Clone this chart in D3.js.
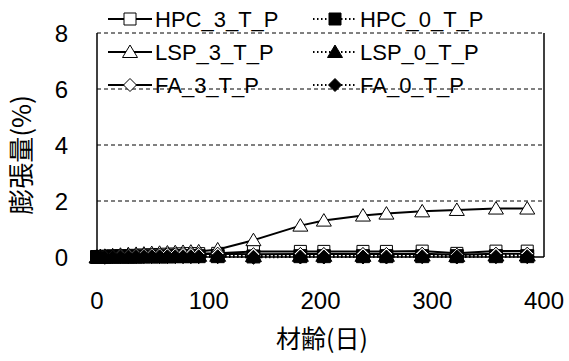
<!DOCTYPE html>
<html>
<head>
<meta charset="utf-8">
<script src="https://cdn.jsdelivr.net/npm/d3@7"></script>
<style>
  body { margin: 0; background: #fff; }
  svg { display: block; font-family: Arial, "Liberation Sans", sans-serif; }
</style>
</head>
<body>
<div id="chart"></div>
<script>
// chart.js
const days = [0, 3, 7, 14, 21, 28, 35, 42, 49, 56, 63, 70, 77, 84, 91, 108, 140, 182, 203, 238, 259, 291, 322, 357, 385];

const hpc3 = [0, 0.02, 0.03, 0.04, 0.05, 0.05, 0.06, 0.07, 0.08, 0.09, 0.1, 0.1, 0.11, 0.12, 0.12, 0.13, 0.2, 0.2, 0.2, 0.2, 0.2, 0.21, 0.13, 0.21, 0.21];
const hpc0 = [0, 0.0, 0.0, 0.01, 0.01, 0.01, 0.01, 0.02, 0.02, 0.02, 0.02, 0.03, 0.03, 0.03, 0.03, 0.03, 0.02, 0.03, 0.03, 0.03, 0.03, 0.03, 0.03, 0.03, 0.03];
const lsp3 = [0, 0.02, 0.04, 0.06, 0.08, 0.1, 0.11, 0.12, 0.14, 0.15, 0.16, 0.17, 0.18, 0.19, 0.2, 0.27, 0.6, 1.12, 1.3, 1.48, 1.55, 1.63, 1.68, 1.73, 1.73];
const lsp0 = [0, 0.01, 0.02, 0.02, 0.03, 0.03, 0.04, 0.04, 0.05, 0.05, 0.05, 0.06, 0.06, 0.06, 0.06, 0.06, 0.05, 0.06, 0.06, 0.06, 0.06, 0.07, 0.05, 0.07, 0.07];
const fa3 = [0, 0.02, 0.03, 0.04, 0.05, 0.06, 0.07, 0.08, 0.09, 0.09, 0.1, 0.1, 0.11, 0.11, 0.11, 0.12, 0.1, 0.11, 0.11, 0.11, 0.11, 0.12, 0.08, 0.12, 0.12];
const fa0 = [0, 0.0, -0.01, 0.0, 0.0, 0.0, 0.01, 0.01, 0.01, 0.01, 0.01, 0.01, 0.01, 0.01, 0.01, 0.01, -0.01, 0.0, 0.0, 0.0, 0.0, 0.01, 0.0, 0.01, 0.01];

const xTicks = [0, 100, 200, 300, 400];
const yTicks = [0, 2, 4, 6, 8];

const seriesNames = ["HPC_3_T_P", "HPC_0_T_P", "LSP_3_T_P", "LSP_0_T_P", "FA_3_T_P", "FA_0_T_P"];
const seriesValues = [hpc3, hpc0, lsp3, lsp0, fa3, fa0];
const seriesShapes = ["square", "square", "triangle", "triangle", "diamond", "diamond"];
const seriesFilled = [false, true, false, true, false, true];

const width = 569, height = 361;
const margin = { top: 33, right: 25, bottom: 104, left: 97 };

const svg = d3.select("#chart").append("svg").attr("width", width).attr("height", height);

const x = d3.scaleLinear().domain([0, 400]).range([margin.left, width - margin.right]);
const y = d3.scaleLinear().domain([0, 8]).range([height - margin.bottom, margin.top]);

// grid lines (dashed), top one included
svg.append("g")
  .selectAll("line")
  .data(yTicks.filter(d => d > 0))
  .join("line")
  .attr("x1", x(0))
  .attr("x2", x(400))
  .attr("y1", d => y(d))
  .attr("y2", d => y(d))
  .attr("stroke", "#000")
  .attr("stroke-width", 1)
  .attr("stroke-dasharray", "4,3");

// frame: right side solid, left axis solid, bottom axis
svg.append("line").attr("x1", x(400)).attr("x2", x(400)).attr("y1", y(8)).attr("y2", y(0)).attr("stroke", "#000").attr("stroke-width", 1.5);
svg.append("line").attr("x1", x(0)).attr("x2", x(0)).attr("y1", y(8)).attr("y2", y(0)).attr("stroke", "#000").attr("stroke-width", 1.5);
svg.append("line").attr("x1", x(0)).attr("x2", x(400)).attr("y1", y(0)).attr("y2", y(0)).attr("stroke", "#000").attr("stroke-width", 1.5);

// tick labels
svg.append("g")
  .selectAll("text")
  .data(yTicks)
  .join("text")
  .attr("x", 68)
  .attr("y", d => y(d))
  .attr("dy", "0.36em")
  .attr("text-anchor", "end")
  .attr("font-size", 24)
  .text(d => d);

svg.append("g")
  .selectAll("text")
  .data(xTicks)
  .join("text")
  .attr("x", d => x(d))
  .attr("y", 309)
  .attr("text-anchor", "middle")
  .attr("font-size", 24)
  .text(d => d);

// axis titles
svg.append("text")
  .attr("transform", "translate(31,155) rotate(-90)")
  .attr("text-anchor", "middle")
  .attr("font-size", 26)
  .attr("font-family", "'Noto Sans CJK JP', sans-serif")
  .text("膨張量(%)");

svg.append("text")
  .attr("x", 322)
  .attr("y", 348)
  .attr("text-anchor", "middle")
  .attr("font-size", 25)
  .attr("font-family", "'Noto Sans CJK JP', sans-serif")
  .text("材齢(日)");

function markerPath(shape, s) {
  if (shape === "square") return `M${-s},${-s}H${s}V${s}H${-s}Z`;
  if (shape === "triangle") return `M0,${-s - 1}L${s + 1.5},${s - 0.5}H${-s - 1.5}Z`;
  return `M0,${-s - 0.5}L${s + 0.5},0L0,${s + 0.5}L${-s - 0.5},0Z`;
}

const line = d3.line().x(d => x(d[0])).y(d => y(d[1]));

seriesNames.forEach((name, i) => {
  const pts = days.map((dd, j) => [dd, seriesValues[i][j]]);
  const g = svg.append("g");
  g.append("path")
    .datum(pts)
    .attr("d", line)
    .attr("fill", "none")
    .attr("stroke", "#000")
    .attr("stroke-width", 2)
    .attr("stroke-dasharray", seriesFilled[i] ? "1.5,2.5" : null);
  g.selectAll("path.m")
    .data(pts)
    .join("path")
    .attr("class", "m")
    .attr("transform", d => `translate(${x(d[0])},${y(d[1])})`)
    .attr("d", markerPath(seriesShapes[i], seriesFilled[i] ? 6.5 : 6))
    .attr("fill", seriesFilled[i] ? "#000" : "#fff")
    .attr("stroke", "#000")
    .attr("stroke-width", 1);
});

// legend, two columns
const legend = svg.append("g");
seriesNames.forEach((name, i) => {
  const col = i % 2, row = Math.floor(i / 2);
  const lx = col === 0 ? 108 : 313;
  const ly = 19 + row * 33;
  const item = legend.append("g");
  item.append("line")
    .attr("x1", lx).attr("x2", lx + 44)
    .attr("y1", ly).attr("y2", ly)
    .attr("stroke", "#000").attr("stroke-width", 2)
    .attr("stroke-dasharray", seriesFilled[i] ? "1.5,2.5" : null);
  item.append("path")
    .attr("transform", `translate(${lx + 22},${ly})`)
    .attr("d", markerPath(seriesShapes[i], 6))
    .attr("fill", seriesFilled[i] ? "#000" : "#fff")
    .attr("stroke", "#000")
    .attr("stroke-width", 1);
  item.append("text")
    .attr("x", lx + 47)
    .attr("y", ly)
    .attr("dy", "0.36em")
    .attr("font-size", 22)
    .text(name);
});
</script>
</body>
</html>
